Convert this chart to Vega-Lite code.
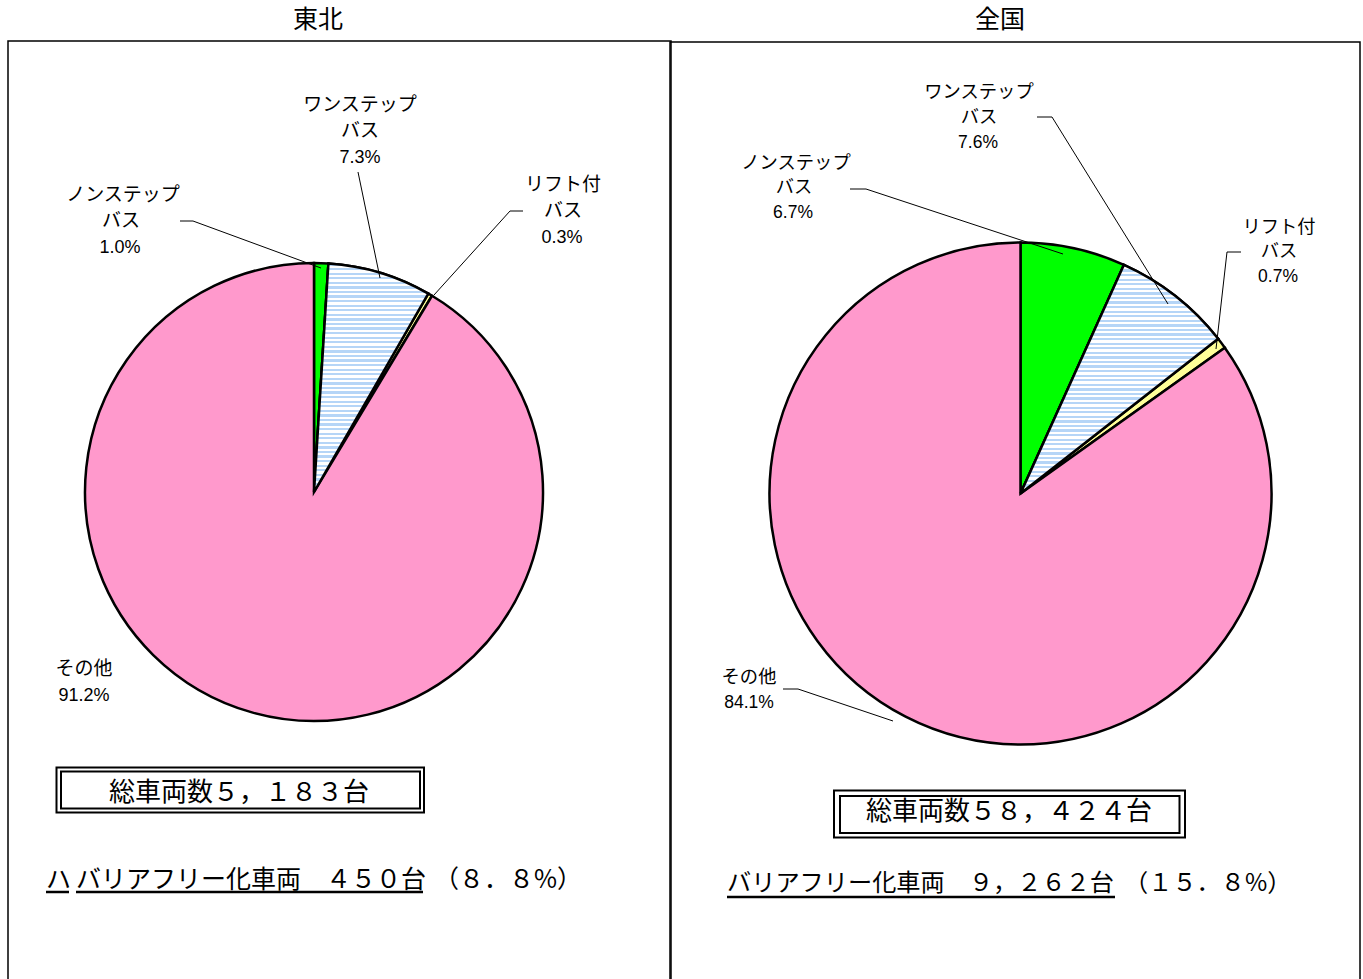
{
  "$schema": "https://vega.github.io/schema/vega-lite/v6.json",
  "width": 1363,
  "height": 979,
  "autosize": {"type": "fit", "contains": "padding"},
  "padding": 0,
  "background": "white",
  "config": {"view": {"stroke": null}, "axis": {"disable": true}, "legend": {"disable": true}},
  "datasets": {
    "slices": [
      {"pie": "東北", "kind": "ノンステップ", "pct": 1.0, "ord": 1, "x": 314, "y": 492},
      {"pie": "東北", "kind": "ワンステップ", "pct": 7.3, "ord": 2, "x": 314, "y": 492},
      {"pie": "東北", "kind": "リフト付", "pct": 0.3, "ord": 3, "x": 314, "y": 492},
      {"pie": "東北", "kind": "その他", "pct": 91.2, "ord": 4, "x": 314, "y": 492},
      {"pie": "全国", "kind": "ノンステップ", "pct": 6.7, "ord": 1, "x": 1020.5, "y": 493.5},
      {"pie": "全国", "kind": "ワンステップ", "pct": 7.6, "ord": 2, "x": 1020.5, "y": 493.5},
      {"pie": "全国", "kind": "リフト付", "pct": 0.7, "ord": 3, "x": 1020.5, "y": 493.5},
      {"pie": "全国", "kind": "その他", "pct": 84.1, "ord": 4, "x": 1020.5, "y": 493.5}
    ],
    "frames": [
      {"panel": "東北", "x": 8, "x2": 671, "y": 41, "y2": 1000},
      {"panel": "全国", "x": 670, "x2": 1360, "y": 42, "y2": 1000}
    ],
    "boxes": [
      {"box": "東北外", "x": 56.5, "x2": 424, "y": 767.5, "y2": 812.5},
      {"box": "東北内", "x": 61, "x2": 420, "y": 771.5, "y2": 808.5},
      {"box": "全国外", "x": 834, "x2": 1185, "y": 790.5, "y2": 837.5},
      {"box": "全国内", "x": 840, "x2": 1179.5, "y": 796, "y2": 833}
    ],
    "leaders": [
      {"id": "L-non", "seq": 1, "x": 180, "y": 221},
      {"id": "L-non", "seq": 2, "x": 193, "y": 221},
      {"id": "L-non", "seq": 3, "x": 321, "y": 268},
      {"id": "L-one", "seq": 1, "x": 358, "y": 172},
      {"id": "L-one", "seq": 2, "x": 380, "y": 278},
      {"id": "L-lift", "seq": 1, "x": 523, "y": 211},
      {"id": "L-lift", "seq": 2, "x": 510, "y": 211},
      {"id": "L-lift", "seq": 3, "x": 434, "y": 295},
      {"id": "R-one", "seq": 1, "x": 1037, "y": 117},
      {"id": "R-one", "seq": 2, "x": 1052, "y": 117},
      {"id": "R-one", "seq": 3, "x": 1168, "y": 304},
      {"id": "R-non", "seq": 1, "x": 850, "y": 189},
      {"id": "R-non", "seq": 2, "x": 866, "y": 189},
      {"id": "R-non", "seq": 3, "x": 1063, "y": 254},
      {"id": "R-lift", "seq": 1, "x": 1241, "y": 252},
      {"id": "R-lift", "seq": 2, "x": 1227, "y": 252},
      {"id": "R-lift", "seq": 3, "x": 1216, "y": 349},
      {"id": "R-other", "seq": 1, "x": 783, "y": 689},
      {"id": "R-other", "seq": 2, "x": 798, "y": 689},
      {"id": "R-other", "seq": 3, "x": 893, "y": 721}
    ],
    "underlines": [
      {"u": "東北ハ", "x": 46, "x2": 69, "y": 892},
      {"u": "東北", "x": 76, "x2": 423, "y": 892},
      {"u": "全国", "x": 727, "x2": 1115, "y": 897}
    ],
    "labels": [
      {"role": "title", "text": "東北", "x": 318, "y": 20},
      {"role": "title", "text": "全国", "x": 1000, "y": 20},
      {"role": "name", "text": "ワンステップ", "x": 360, "y": 105},
      {"role": "name", "text": "バス", "x": 360, "y": 131},
      {"role": "pct", "text": "7.3%", "x": 360, "y": 158},
      {"role": "name", "text": "ノンステップ", "x": 123, "y": 195},
      {"role": "name", "text": "バス", "x": 121, "y": 221},
      {"role": "pct", "text": "1.0%", "x": 120, "y": 248},
      {"role": "name", "text": "リフト付", "x": 563, "y": 185},
      {"role": "name", "text": "バス", "x": 563, "y": 211},
      {"role": "pct", "text": "0.3%", "x": 562, "y": 238},
      {"role": "name", "text": "その他", "x": 84, "y": 669},
      {"role": "pct", "text": "91.2%", "x": 84, "y": 696},
      {"role": "nameR", "text": "ワンステップ", "x": 979, "y": 93},
      {"role": "nameR", "text": "バス", "x": 979, "y": 118},
      {"role": "pctR", "text": "7.6%", "x": 978, "y": 143},
      {"role": "nameR", "text": "ノンステップ", "x": 796, "y": 164},
      {"role": "nameR", "text": "バス", "x": 794, "y": 188},
      {"role": "pctR", "text": "6.7%", "x": 793, "y": 213},
      {"role": "nameR", "text": "リフト付", "x": 1279, "y": 228},
      {"role": "nameR", "text": "バス", "x": 1279, "y": 252},
      {"role": "pctR", "text": "0.7%", "x": 1278, "y": 277},
      {"role": "nameR", "text": "その他", "x": 749, "y": 678},
      {"role": "pctR", "text": "84.1%", "x": 749, "y": 703},
      {"role": "total", "text": "総車両数５，１８３台", "x": 239, "y": 793},
      {"role": "total", "text": "総車両数５８，４２４台", "x": 1009, "y": 812},
      {"role": "bfL", "text": "ハ", "x": 46, "y": 880},
      {"role": "bfL", "text": "バリアフリー化車両　４５０台", "x": 76, "y": 880},
      {"role": "bfL", "text": "（８．８%）", "x": 434, "y": 880},
      {"role": "bfR", "text": "バリアフリー化車両　９，２６２台", "x": 727, "y": 884},
      {"role": "bfR", "text": "（１５．８%）", "x": 1124, "y": 884}
    ]
  },
  "encoding": {
    "x": {"field": "x", "type": "quantitative", "scale": {"domain": [0, 1363], "nice": false, "zero": false}},
    "y": {"field": "y", "type": "quantitative", "scale": {"domain": [0, 979], "nice": false, "zero": false, "reverse": true}}
  },
  "layer": [
    {
      "data": {"name": "frames"},
      "mark": {"type": "rect", "fill": null, "stroke": "black", "strokeWidth": 1.5, "clip": true},
      "encoding": {"x2": {"field": "x2"}, "y2": {"field": "y2"}}
    },
    {
      "data": {"name": "slices"},
      "transform": [
        {"stack": "pct", "groupby": ["pie"], "sort": [{"field": "ord"}], "offset": "normalize", "as": ["t0", "t1"]},
        {"filter": "datum.pie === '東北'"}
      ],
      "mark": {"type": "arc", "radius": 229, "stroke": "black", "strokeWidth": 2.5},
      "encoding": {
        "theta": {"field": "t0", "type": "quantitative", "scale": {"domain": [0, 1]}},
        "theta2": {"field": "t1"},
        "color": {"field": "kind", "type": "nominal", "scale": {"domain": ["ノンステップ", "ワンステップ", "リフト付", "その他"], "range": ["#00ff00", "#d6e7fb", "#ffff99", "#ff99cc"]}}
      }
    },
    {
      "data": {"name": "slices"},
      "transform": [
        {"stack": "pct", "groupby": ["pie"], "sort": [{"field": "ord"}], "offset": "normalize", "as": ["t0", "t1"]},
        {"filter": "datum.pie === '全国'"}
      ],
      "mark": {"type": "arc", "radius": 251, "stroke": "black", "strokeWidth": 2.5},
      "encoding": {
        "theta": {"field": "t0", "type": "quantitative", "scale": {"domain": [0, 1]}},
        "theta2": {"field": "t1"},
        "color": {"field": "kind", "type": "nominal", "scale": {"domain": ["ノンステップ", "ワンステップ", "リフト付", "その他"], "range": ["#00ff00", "#d6e7fb", "#ffff99", "#ff99cc"]}}
      }
    },
    {
      "data": {"name": "slices"},
      "transform": [
        {"stack": "pct", "groupby": ["pie"], "sort": [{"field": "ord"}], "offset": "normalize", "as": ["t0", "t1"]},
        {"filter": "datum.pie === '東北' && datum.kind === 'ワンステップ'"}
      ],
      "mark": {"type": "arc", "radius": 229, "stroke": "black", "strokeWidth": 2.5,
        "fill": {"gradient": "linear", "x1": 0, "y1": 0, "x2": 0, "y2": 1, "stops": [
          {"offset": 0, "color": "#b5d5f7"}, {"offset": 0.01, "color": "#b5d5f7"}, {"offset": 0.01, "color": "#ffffff"}, {"offset": 0.02, "color": "#ffffff"},
          {"offset": 0.02, "color": "#b5d5f7"}, {"offset": 0.03, "color": "#b5d5f7"}, {"offset": 0.03, "color": "#ffffff"}, {"offset": 0.04, "color": "#ffffff"},
          {"offset": 0.04, "color": "#b5d5f7"}, {"offset": 0.05, "color": "#b5d5f7"}, {"offset": 0.05, "color": "#ffffff"}, {"offset": 0.06, "color": "#ffffff"},
          {"offset": 0.06, "color": "#b5d5f7"}, {"offset": 0.07, "color": "#b5d5f7"}, {"offset": 0.07, "color": "#ffffff"}, {"offset": 0.08, "color": "#ffffff"},
          {"offset": 0.08, "color": "#b5d5f7"}, {"offset": 0.09, "color": "#b5d5f7"}, {"offset": 0.09, "color": "#ffffff"}, {"offset": 0.10, "color": "#ffffff"},
          {"offset": 0.10, "color": "#b5d5f7"}, {"offset": 0.11, "color": "#b5d5f7"}, {"offset": 0.11, "color": "#ffffff"}, {"offset": 0.12, "color": "#ffffff"},
          {"offset": 0.12, "color": "#b5d5f7"}, {"offset": 0.13, "color": "#b5d5f7"}, {"offset": 0.13, "color": "#ffffff"}, {"offset": 0.14, "color": "#ffffff"},
          {"offset": 0.14, "color": "#b5d5f7"}, {"offset": 0.15, "color": "#b5d5f7"}, {"offset": 0.15, "color": "#ffffff"}, {"offset": 0.16, "color": "#ffffff"},
          {"offset": 0.16, "color": "#b5d5f7"}, {"offset": 0.17, "color": "#b5d5f7"}, {"offset": 0.17, "color": "#ffffff"}, {"offset": 0.18, "color": "#ffffff"},
          {"offset": 0.18, "color": "#b5d5f7"}, {"offset": 0.19, "color": "#b5d5f7"}, {"offset": 0.19, "color": "#ffffff"}, {"offset": 0.20, "color": "#ffffff"},
          {"offset": 0.20, "color": "#b5d5f7"}, {"offset": 0.21, "color": "#b5d5f7"}, {"offset": 0.21, "color": "#ffffff"}, {"offset": 0.22, "color": "#ffffff"},
          {"offset": 0.22, "color": "#b5d5f7"}, {"offset": 0.23, "color": "#b5d5f7"}, {"offset": 0.23, "color": "#ffffff"}, {"offset": 0.24, "color": "#ffffff"},
          {"offset": 0.24, "color": "#b5d5f7"}, {"offset": 0.25, "color": "#b5d5f7"}, {"offset": 0.25, "color": "#ffffff"}, {"offset": 0.26, "color": "#ffffff"},
          {"offset": 0.26, "color": "#b5d5f7"}, {"offset": 0.27, "color": "#b5d5f7"}, {"offset": 0.27, "color": "#ffffff"}, {"offset": 0.28, "color": "#ffffff"},
          {"offset": 0.28, "color": "#b5d5f7"}, {"offset": 0.29, "color": "#b5d5f7"}, {"offset": 0.29, "color": "#ffffff"}, {"offset": 0.30, "color": "#ffffff"},
          {"offset": 0.30, "color": "#b5d5f7"}, {"offset": 0.31, "color": "#b5d5f7"}, {"offset": 0.31, "color": "#ffffff"}, {"offset": 0.32, "color": "#ffffff"},
          {"offset": 0.32, "color": "#b5d5f7"}, {"offset": 0.33, "color": "#b5d5f7"}, {"offset": 0.33, "color": "#ffffff"}, {"offset": 0.34, "color": "#ffffff"},
          {"offset": 0.34, "color": "#b5d5f7"}, {"offset": 0.35, "color": "#b5d5f7"}, {"offset": 0.35, "color": "#ffffff"}, {"offset": 0.36, "color": "#ffffff"},
          {"offset": 0.36, "color": "#b5d5f7"}, {"offset": 0.37, "color": "#b5d5f7"}, {"offset": 0.37, "color": "#ffffff"}, {"offset": 0.38, "color": "#ffffff"},
          {"offset": 0.38, "color": "#b5d5f7"}, {"offset": 0.39, "color": "#b5d5f7"}, {"offset": 0.39, "color": "#ffffff"}, {"offset": 0.40, "color": "#ffffff"},
          {"offset": 0.40, "color": "#b5d5f7"}, {"offset": 0.41, "color": "#b5d5f7"}, {"offset": 0.41, "color": "#ffffff"}, {"offset": 0.42, "color": "#ffffff"},
          {"offset": 0.42, "color": "#b5d5f7"}, {"offset": 0.43, "color": "#b5d5f7"}, {"offset": 0.43, "color": "#ffffff"}, {"offset": 0.44, "color": "#ffffff"},
          {"offset": 0.44, "color": "#b5d5f7"}, {"offset": 0.45, "color": "#b5d5f7"}, {"offset": 0.45, "color": "#ffffff"}, {"offset": 0.46, "color": "#ffffff"},
          {"offset": 0.46, "color": "#b5d5f7"}, {"offset": 0.47, "color": "#b5d5f7"}, {"offset": 0.47, "color": "#ffffff"}, {"offset": 0.48, "color": "#ffffff"},
          {"offset": 0.48, "color": "#b5d5f7"}, {"offset": 0.49, "color": "#b5d5f7"}, {"offset": 0.49, "color": "#ffffff"}, {"offset": 0.50, "color": "#ffffff"},
          {"offset": 0.50, "color": "#b5d5f7"}, {"offset": 0.51, "color": "#b5d5f7"}, {"offset": 0.51, "color": "#ffffff"}, {"offset": 0.52, "color": "#ffffff"},
          {"offset": 0.52, "color": "#b5d5f7"}, {"offset": 0.53, "color": "#b5d5f7"}, {"offset": 0.53, "color": "#ffffff"}, {"offset": 0.54, "color": "#ffffff"},
          {"offset": 0.54, "color": "#b5d5f7"}, {"offset": 0.55, "color": "#b5d5f7"}, {"offset": 0.55, "color": "#ffffff"}, {"offset": 0.56, "color": "#ffffff"},
          {"offset": 0.56, "color": "#b5d5f7"}, {"offset": 0.57, "color": "#b5d5f7"}, {"offset": 0.57, "color": "#ffffff"}, {"offset": 0.58, "color": "#ffffff"},
          {"offset": 0.58, "color": "#b5d5f7"}, {"offset": 0.59, "color": "#b5d5f7"}, {"offset": 0.59, "color": "#ffffff"}, {"offset": 0.60, "color": "#ffffff"},
          {"offset": 0.60, "color": "#b5d5f7"}, {"offset": 0.61, "color": "#b5d5f7"}, {"offset": 0.61, "color": "#ffffff"}, {"offset": 0.62, "color": "#ffffff"},
          {"offset": 0.62, "color": "#b5d5f7"}, {"offset": 0.63, "color": "#b5d5f7"}, {"offset": 0.63, "color": "#ffffff"}, {"offset": 0.64, "color": "#ffffff"},
          {"offset": 0.64, "color": "#b5d5f7"}, {"offset": 0.65, "color": "#b5d5f7"}, {"offset": 0.65, "color": "#ffffff"}, {"offset": 0.66, "color": "#ffffff"},
          {"offset": 0.66, "color": "#b5d5f7"}, {"offset": 0.67, "color": "#b5d5f7"}, {"offset": 0.67, "color": "#ffffff"}, {"offset": 0.68, "color": "#ffffff"},
          {"offset": 0.68, "color": "#b5d5f7"}, {"offset": 0.69, "color": "#b5d5f7"}, {"offset": 0.69, "color": "#ffffff"}, {"offset": 0.70, "color": "#ffffff"},
          {"offset": 0.70, "color": "#b5d5f7"}, {"offset": 0.71, "color": "#b5d5f7"}, {"offset": 0.71, "color": "#ffffff"}, {"offset": 0.72, "color": "#ffffff"},
          {"offset": 0.72, "color": "#b5d5f7"}, {"offset": 0.73, "color": "#b5d5f7"}, {"offset": 0.73, "color": "#ffffff"}, {"offset": 0.74, "color": "#ffffff"},
          {"offset": 0.74, "color": "#b5d5f7"}, {"offset": 0.75, "color": "#b5d5f7"}, {"offset": 0.75, "color": "#ffffff"}, {"offset": 0.76, "color": "#ffffff"},
          {"offset": 0.76, "color": "#b5d5f7"}, {"offset": 0.77, "color": "#b5d5f7"}, {"offset": 0.77, "color": "#ffffff"}, {"offset": 0.78, "color": "#ffffff"},
          {"offset": 0.78, "color": "#b5d5f7"}, {"offset": 0.79, "color": "#b5d5f7"}, {"offset": 0.79, "color": "#ffffff"}, {"offset": 0.80, "color": "#ffffff"},
          {"offset": 0.80, "color": "#b5d5f7"}, {"offset": 0.81, "color": "#b5d5f7"}, {"offset": 0.81, "color": "#ffffff"}, {"offset": 0.82, "color": "#ffffff"},
          {"offset": 0.82, "color": "#b5d5f7"}, {"offset": 0.83, "color": "#b5d5f7"}, {"offset": 0.83, "color": "#ffffff"}, {"offset": 0.84, "color": "#ffffff"},
          {"offset": 0.84, "color": "#b5d5f7"}, {"offset": 0.85, "color": "#b5d5f7"}, {"offset": 0.85, "color": "#ffffff"}, {"offset": 0.86, "color": "#ffffff"},
          {"offset": 0.86, "color": "#b5d5f7"}, {"offset": 0.87, "color": "#b5d5f7"}, {"offset": 0.87, "color": "#ffffff"}, {"offset": 0.88, "color": "#ffffff"},
          {"offset": 0.88, "color": "#b5d5f7"}, {"offset": 0.89, "color": "#b5d5f7"}, {"offset": 0.89, "color": "#ffffff"}, {"offset": 0.90, "color": "#ffffff"},
          {"offset": 0.90, "color": "#b5d5f7"}, {"offset": 0.91, "color": "#b5d5f7"}, {"offset": 0.91, "color": "#ffffff"}, {"offset": 0.92, "color": "#ffffff"},
          {"offset": 0.92, "color": "#b5d5f7"}, {"offset": 0.93, "color": "#b5d5f7"}, {"offset": 0.93, "color": "#ffffff"}, {"offset": 0.94, "color": "#ffffff"},
          {"offset": 0.94, "color": "#b5d5f7"}, {"offset": 0.95, "color": "#b5d5f7"}, {"offset": 0.95, "color": "#ffffff"}, {"offset": 0.96, "color": "#ffffff"},
          {"offset": 0.96, "color": "#b5d5f7"}, {"offset": 0.97, "color": "#b5d5f7"}, {"offset": 0.97, "color": "#ffffff"}, {"offset": 0.98, "color": "#ffffff"},
          {"offset": 0.98, "color": "#b5d5f7"}, {"offset": 0.99, "color": "#b5d5f7"}, {"offset": 0.99, "color": "#ffffff"}, {"offset": 1, "color": "#ffffff"}
        ]}},
      "encoding": {
        "theta": {"field": "t0", "type": "quantitative", "scale": {"domain": [0, 1]}},
        "theta2": {"field": "t1"}
      }
    },
    {
      "data": {"name": "slices"},
      "transform": [
        {"stack": "pct", "groupby": ["pie"], "sort": [{"field": "ord"}], "offset": "normalize", "as": ["t0", "t1"]},
        {"filter": "datum.pie === '全国' && datum.kind === 'ワンステップ'"}
      ],
      "mark": {"type": "arc", "radius": 251, "stroke": "black", "strokeWidth": 2.5,
        "fill": {"gradient": "linear", "x1": 0, "y1": 0, "x2": 0, "y2": 1, "stops": [
          {"offset": 0, "color": "#b5d5f7"}, {"offset": 0.01, "color": "#b5d5f7"}, {"offset": 0.01, "color": "#ffffff"}, {"offset": 0.02, "color": "#ffffff"},
          {"offset": 0.02, "color": "#b5d5f7"}, {"offset": 0.03, "color": "#b5d5f7"}, {"offset": 0.03, "color": "#ffffff"}, {"offset": 0.04, "color": "#ffffff"},
          {"offset": 0.04, "color": "#b5d5f7"}, {"offset": 0.05, "color": "#b5d5f7"}, {"offset": 0.05, "color": "#ffffff"}, {"offset": 0.06, "color": "#ffffff"},
          {"offset": 0.06, "color": "#b5d5f7"}, {"offset": 0.07, "color": "#b5d5f7"}, {"offset": 0.07, "color": "#ffffff"}, {"offset": 0.08, "color": "#ffffff"},
          {"offset": 0.08, "color": "#b5d5f7"}, {"offset": 0.09, "color": "#b5d5f7"}, {"offset": 0.09, "color": "#ffffff"}, {"offset": 0.10, "color": "#ffffff"},
          {"offset": 0.10, "color": "#b5d5f7"}, {"offset": 0.11, "color": "#b5d5f7"}, {"offset": 0.11, "color": "#ffffff"}, {"offset": 0.12, "color": "#ffffff"},
          {"offset": 0.12, "color": "#b5d5f7"}, {"offset": 0.13, "color": "#b5d5f7"}, {"offset": 0.13, "color": "#ffffff"}, {"offset": 0.14, "color": "#ffffff"},
          {"offset": 0.14, "color": "#b5d5f7"}, {"offset": 0.15, "color": "#b5d5f7"}, {"offset": 0.15, "color": "#ffffff"}, {"offset": 0.16, "color": "#ffffff"},
          {"offset": 0.16, "color": "#b5d5f7"}, {"offset": 0.17, "color": "#b5d5f7"}, {"offset": 0.17, "color": "#ffffff"}, {"offset": 0.18, "color": "#ffffff"},
          {"offset": 0.18, "color": "#b5d5f7"}, {"offset": 0.19, "color": "#b5d5f7"}, {"offset": 0.19, "color": "#ffffff"}, {"offset": 0.20, "color": "#ffffff"},
          {"offset": 0.20, "color": "#b5d5f7"}, {"offset": 0.21, "color": "#b5d5f7"}, {"offset": 0.21, "color": "#ffffff"}, {"offset": 0.22, "color": "#ffffff"},
          {"offset": 0.22, "color": "#b5d5f7"}, {"offset": 0.23, "color": "#b5d5f7"}, {"offset": 0.23, "color": "#ffffff"}, {"offset": 0.24, "color": "#ffffff"},
          {"offset": 0.24, "color": "#b5d5f7"}, {"offset": 0.25, "color": "#b5d5f7"}, {"offset": 0.25, "color": "#ffffff"}, {"offset": 0.26, "color": "#ffffff"},
          {"offset": 0.26, "color": "#b5d5f7"}, {"offset": 0.27, "color": "#b5d5f7"}, {"offset": 0.27, "color": "#ffffff"}, {"offset": 0.28, "color": "#ffffff"},
          {"offset": 0.28, "color": "#b5d5f7"}, {"offset": 0.29, "color": "#b5d5f7"}, {"offset": 0.29, "color": "#ffffff"}, {"offset": 0.30, "color": "#ffffff"},
          {"offset": 0.30, "color": "#b5d5f7"}, {"offset": 0.31, "color": "#b5d5f7"}, {"offset": 0.31, "color": "#ffffff"}, {"offset": 0.32, "color": "#ffffff"},
          {"offset": 0.32, "color": "#b5d5f7"}, {"offset": 0.33, "color": "#b5d5f7"}, {"offset": 0.33, "color": "#ffffff"}, {"offset": 0.34, "color": "#ffffff"},
          {"offset": 0.34, "color": "#b5d5f7"}, {"offset": 0.35, "color": "#b5d5f7"}, {"offset": 0.35, "color": "#ffffff"}, {"offset": 0.36, "color": "#ffffff"},
          {"offset": 0.36, "color": "#b5d5f7"}, {"offset": 0.37, "color": "#b5d5f7"}, {"offset": 0.37, "color": "#ffffff"}, {"offset": 0.38, "color": "#ffffff"},
          {"offset": 0.38, "color": "#b5d5f7"}, {"offset": 0.39, "color": "#b5d5f7"}, {"offset": 0.39, "color": "#ffffff"}, {"offset": 0.40, "color": "#ffffff"},
          {"offset": 0.40, "color": "#b5d5f7"}, {"offset": 0.41, "color": "#b5d5f7"}, {"offset": 0.41, "color": "#ffffff"}, {"offset": 0.42, "color": "#ffffff"},
          {"offset": 0.42, "color": "#b5d5f7"}, {"offset": 0.43, "color": "#b5d5f7"}, {"offset": 0.43, "color": "#ffffff"}, {"offset": 0.44, "color": "#ffffff"},
          {"offset": 0.44, "color": "#b5d5f7"}, {"offset": 0.45, "color": "#b5d5f7"}, {"offset": 0.45, "color": "#ffffff"}, {"offset": 0.46, "color": "#ffffff"},
          {"offset": 0.46, "color": "#b5d5f7"}, {"offset": 0.47, "color": "#b5d5f7"}, {"offset": 0.47, "color": "#ffffff"}, {"offset": 0.48, "color": "#ffffff"},
          {"offset": 0.48, "color": "#b5d5f7"}, {"offset": 0.49, "color": "#b5d5f7"}, {"offset": 0.49, "color": "#ffffff"}, {"offset": 0.50, "color": "#ffffff"},
          {"offset": 0.50, "color": "#b5d5f7"}, {"offset": 0.51, "color": "#b5d5f7"}, {"offset": 0.51, "color": "#ffffff"}, {"offset": 0.52, "color": "#ffffff"},
          {"offset": 0.52, "color": "#b5d5f7"}, {"offset": 0.53, "color": "#b5d5f7"}, {"offset": 0.53, "color": "#ffffff"}, {"offset": 0.54, "color": "#ffffff"},
          {"offset": 0.54, "color": "#b5d5f7"}, {"offset": 0.55, "color": "#b5d5f7"}, {"offset": 0.55, "color": "#ffffff"}, {"offset": 0.56, "color": "#ffffff"},
          {"offset": 0.56, "color": "#b5d5f7"}, {"offset": 0.57, "color": "#b5d5f7"}, {"offset": 0.57, "color": "#ffffff"}, {"offset": 0.58, "color": "#ffffff"},
          {"offset": 0.58, "color": "#b5d5f7"}, {"offset": 0.59, "color": "#b5d5f7"}, {"offset": 0.59, "color": "#ffffff"}, {"offset": 0.60, "color": "#ffffff"},
          {"offset": 0.60, "color": "#b5d5f7"}, {"offset": 0.61, "color": "#b5d5f7"}, {"offset": 0.61, "color": "#ffffff"}, {"offset": 0.62, "color": "#ffffff"},
          {"offset": 0.62, "color": "#b5d5f7"}, {"offset": 0.63, "color": "#b5d5f7"}, {"offset": 0.63, "color": "#ffffff"}, {"offset": 0.64, "color": "#ffffff"},
          {"offset": 0.64, "color": "#b5d5f7"}, {"offset": 0.65, "color": "#b5d5f7"}, {"offset": 0.65, "color": "#ffffff"}, {"offset": 0.66, "color": "#ffffff"},
          {"offset": 0.66, "color": "#b5d5f7"}, {"offset": 0.67, "color": "#b5d5f7"}, {"offset": 0.67, "color": "#ffffff"}, {"offset": 0.68, "color": "#ffffff"},
          {"offset": 0.68, "color": "#b5d5f7"}, {"offset": 0.69, "color": "#b5d5f7"}, {"offset": 0.69, "color": "#ffffff"}, {"offset": 0.70, "color": "#ffffff"},
          {"offset": 0.70, "color": "#b5d5f7"}, {"offset": 0.71, "color": "#b5d5f7"}, {"offset": 0.71, "color": "#ffffff"}, {"offset": 0.72, "color": "#ffffff"},
          {"offset": 0.72, "color": "#b5d5f7"}, {"offset": 0.73, "color": "#b5d5f7"}, {"offset": 0.73, "color": "#ffffff"}, {"offset": 0.74, "color": "#ffffff"},
          {"offset": 0.74, "color": "#b5d5f7"}, {"offset": 0.75, "color": "#b5d5f7"}, {"offset": 0.75, "color": "#ffffff"}, {"offset": 0.76, "color": "#ffffff"},
          {"offset": 0.76, "color": "#b5d5f7"}, {"offset": 0.77, "color": "#b5d5f7"}, {"offset": 0.77, "color": "#ffffff"}, {"offset": 0.78, "color": "#ffffff"},
          {"offset": 0.78, "color": "#b5d5f7"}, {"offset": 0.79, "color": "#b5d5f7"}, {"offset": 0.79, "color": "#ffffff"}, {"offset": 0.80, "color": "#ffffff"},
          {"offset": 0.80, "color": "#b5d5f7"}, {"offset": 0.81, "color": "#b5d5f7"}, {"offset": 0.81, "color": "#ffffff"}, {"offset": 0.82, "color": "#ffffff"},
          {"offset": 0.82, "color": "#b5d5f7"}, {"offset": 0.83, "color": "#b5d5f7"}, {"offset": 0.83, "color": "#ffffff"}, {"offset": 0.84, "color": "#ffffff"},
          {"offset": 0.84, "color": "#b5d5f7"}, {"offset": 0.85, "color": "#b5d5f7"}, {"offset": 0.85, "color": "#ffffff"}, {"offset": 0.86, "color": "#ffffff"},
          {"offset": 0.86, "color": "#b5d5f7"}, {"offset": 0.87, "color": "#b5d5f7"}, {"offset": 0.87, "color": "#ffffff"}, {"offset": 0.88, "color": "#ffffff"},
          {"offset": 0.88, "color": "#b5d5f7"}, {"offset": 0.89, "color": "#b5d5f7"}, {"offset": 0.89, "color": "#ffffff"}, {"offset": 0.90, "color": "#ffffff"},
          {"offset": 0.90, "color": "#b5d5f7"}, {"offset": 0.91, "color": "#b5d5f7"}, {"offset": 0.91, "color": "#ffffff"}, {"offset": 0.92, "color": "#ffffff"},
          {"offset": 0.92, "color": "#b5d5f7"}, {"offset": 0.93, "color": "#b5d5f7"}, {"offset": 0.93, "color": "#ffffff"}, {"offset": 0.94, "color": "#ffffff"},
          {"offset": 0.94, "color": "#b5d5f7"}, {"offset": 0.95, "color": "#b5d5f7"}, {"offset": 0.95, "color": "#ffffff"}, {"offset": 0.96, "color": "#ffffff"},
          {"offset": 0.96, "color": "#b5d5f7"}, {"offset": 0.97, "color": "#b5d5f7"}, {"offset": 0.97, "color": "#ffffff"}, {"offset": 0.98, "color": "#ffffff"},
          {"offset": 0.98, "color": "#b5d5f7"}, {"offset": 0.99, "color": "#b5d5f7"}, {"offset": 0.99, "color": "#ffffff"}, {"offset": 1, "color": "#ffffff"}
        ]}},
      "encoding": {
        "theta": {"field": "t0", "type": "quantitative", "scale": {"domain": [0, 1]}},
        "theta2": {"field": "t1"}
      }
    },
    {
      "data": {"name": "leaders"},
      "mark": {"type": "line", "stroke": "black", "strokeWidth": 1},
      "encoding": {"detail": {"field": "id"}, "order": {"field": "seq", "type": "quantitative"}}
    },
    {
      "data": {"name": "boxes"},
      "mark": {"type": "rect", "fill": null, "stroke": "black", "strokeWidth": 2},
      "encoding": {"x2": {"field": "x2"}, "y2": {"field": "y2"}}
    },
    {
      "data": {"name": "underlines"},
      "mark": {"type": "rule", "stroke": "black", "strokeWidth": 2.5},
      "encoding": {"x2": {"field": "x2"}}
    },
    {
      "data": {"name": "labels"},
      "transform": [{"filter": "datum.role === 'title'"}],
      "mark": {"type": "text", "font": "Noto Sans CJK JP", "fontSize": 25, "align": "center", "baseline": "middle", "color": "black"},
      "encoding": {"text": {"field": "text"}}
    },
    {
      "data": {"name": "labels"},
      "transform": [{"filter": "datum.role === 'name'"}],
      "mark": {"type": "text", "font": "Noto Sans CJK JP", "fontSize": 19, "align": "center", "baseline": "middle", "color": "black"},
      "encoding": {"text": {"field": "text"}}
    },
    {
      "data": {"name": "labels"},
      "transform": [{"filter": "datum.role === 'nameR'"}],
      "mark": {"type": "text", "font": "Noto Sans CJK JP", "fontSize": 18.3, "align": "center", "baseline": "middle", "color": "black"},
      "encoding": {"text": {"field": "text"}}
    },
    {
      "data": {"name": "labels"},
      "transform": [{"filter": "datum.role === 'pct'"}],
      "mark": {"type": "text", "font": "Liberation Sans", "fontSize": 18, "align": "center", "baseline": "middle", "color": "black"},
      "encoding": {"text": {"field": "text"}}
    },
    {
      "data": {"name": "labels"},
      "transform": [{"filter": "datum.role === 'pctR'"}],
      "mark": {"type": "text", "font": "Liberation Sans", "fontSize": 17.5, "align": "center", "baseline": "middle", "color": "black"},
      "encoding": {"text": {"field": "text"}}
    },
    {
      "data": {"name": "labels"},
      "transform": [{"filter": "datum.role === 'total'"}],
      "mark": {"type": "text", "font": "Noto Sans CJK JP", "fontSize": 26, "align": "center", "baseline": "middle", "color": "black"},
      "encoding": {"text": {"field": "text"}}
    },
    {
      "data": {"name": "labels"},
      "transform": [{"filter": "datum.role === 'bfL'"}],
      "mark": {"type": "text", "font": "Noto Sans CJK JP", "fontSize": 25, "align": "left", "baseline": "middle", "color": "black"},
      "encoding": {"text": {"field": "text"}}
    },
    {
      "data": {"name": "labels"},
      "transform": [{"filter": "datum.role === 'bfR'"}],
      "mark": {"type": "text", "font": "Noto Sans CJK JP", "fontSize": 24.2, "align": "left", "baseline": "middle", "color": "black"},
      "encoding": {"text": {"field": "text"}}
    }
  ]
}
